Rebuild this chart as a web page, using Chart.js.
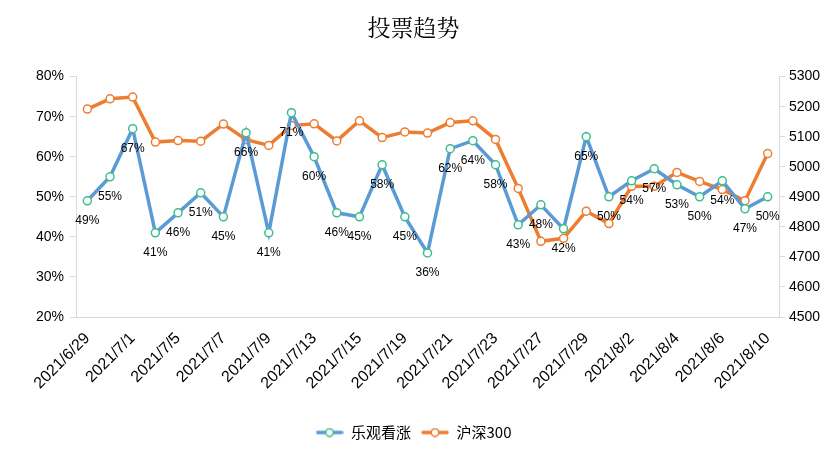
<!DOCTYPE html>
<html>
<head>
<meta charset="utf-8">
<script src="https://cdn.jsdelivr.net/npm/chart.js@4.4.0/dist/chart.umd.min.js"></script>
<style>
  html, body { margin: 0; padding: 0; background: #fff; }
  #wrap { width: 827px; height: 473px; }
</style>
</head>
<body>
<div id="wrap"><canvas id="myChart"></canvas></div>
<script>
// dates (trading days)
const dates = ["2021/6/29", "2021/6/30", "2021/7/1", "2021/7/2", "2021/7/5", "2021/7/6", "2021/7/7", "2021/7/8",
    "2021/7/9", "2021/7/12", "2021/7/13", "2021/7/14", "2021/7/15", "2021/7/16", "2021/7/19", "2021/7/20",
    "2021/7/21", "2021/7/22", "2021/7/23", "2021/7/26", "2021/7/27", "2021/7/28", "2021/7/29", "2021/7/30",
    "2021/8/2", "2021/8/3", "2021/8/4", "2021/8/5", "2021/8/6", "2021/8/9", "2021/8/10"];

// 乐观看涨 (%)
const bullish = [49, 55, 67, 41, 46, 51, 45, 66, 41, 71, 60, 46, 45, 58, 45, 36,
    62, 64, 58, 43, 48, 42, 65, 50, 54, 57, 53, 50, 54, 47, 50];

// 沪深300
const hs300 = [5192, 5226, 5232, 5082, 5087, 5085, 5142, 5090, 5071, 5137, 5143, 5086, 5153, 5097, 5116, 5112,
    5147, 5153, 5091, 4928, 4752, 4762, 4852, 4811, 4935, 4935, 4981, 4951, 4924, 4887, 5044];

const blue = "#5B9BD5", green = "#3DBE8C", orange = "#ED7D31";

// legend marker: short line with hollow circle
function legendMark(lineColor, ptColor) {
    const c = document.createElement('canvas');
    c.width = 28; c.height = 10;
    const g = c.getContext('2d');
    g.strokeStyle = lineColor; g.lineWidth = 3.5; g.lineCap = 'round';
    g.beginPath(); g.moveTo(2, 5); g.lineTo(26, 5); g.stroke();
    g.fillStyle = '#fff'; g.strokeStyle = ptColor; g.lineWidth = 1.5;
    g.beginPath(); g.arc(14, 5, 3.8, 0, Math.PI * 2); g.fill(); g.stroke();
    return c;
}

// percent labels under the blue points
const pctLabels = {
    id: 'pctLabels',
    afterDatasetsDraw(chart) {
        const ctx = chart.ctx;
        const meta = chart.getDatasetMeta(0);
        ctx.save();
        ctx.font = '12px "Liberation Sans", Arial, sans-serif';
        ctx.fillStyle = '#000';
        ctx.textAlign = 'center';
        ctx.textBaseline = 'middle';
        meta.data.forEach((pt, i) => {
            ctx.fillText(bullish[i] + '%', pt.x, pt.y + 20);
        });
        ctx.restore();
    }
};

new Chart(document.getElementById("myChart"), {
    type: 'line',
    data: {
        labels: dates,
        datasets: [{
            label: "乐观看涨",
            data: bullish,
            yAxisID: 'y',
            borderColor: blue,
            borderWidth: 3.5,
            pointRadius: 4,
            pointBorderWidth: 1.5,
            pointBackgroundColor: '#fff',
            pointBorderColor: green,
            tension: 0,
            order: 1
        }, {
            label: "沪深300",
            data: hs300,
            yAxisID: 'y1',
            borderColor: orange,
            borderWidth: 3.5,
            pointRadius: 4,
            pointBorderWidth: 1.5,
            pointBackgroundColor: '#fff',
            pointBorderColor: orange,
            tension: 0,
            order: 2
        }]
    },
    options: {
        responsive: true,
        maintainAspectRatio: false,
        animation: false,
        layout: {
            padding: { left: 0, right: 0, top: 0, bottom: 23 }
        },
        scales: {
            x: {
                offset: true,
                grid: { display: false },
                border: { display: true, color: '#d9d9d9' },
                ticks: {
                    autoSkip: false,
                    maxRotation: 45,
                    minRotation: 45,
                    padding: 4,
                    color: '#000',
                    font: { size: 16, family: '"Liberation Sans", Arial, sans-serif' },
                    callback: (v, i) => i % 2 === 0 ? dates[i] : ''
                },
                afterFit: (s) => { s.height = 98; }
            },
            y: {
                position: 'left',
                min: 20,
                max: 80,
                ticks: {
                    stepSize: 10,
                    padding: 6,
                    color: '#000',
                    font: { size: 14, family: '"Liberation Sans", Arial, sans-serif' },
                    callback: (v) => v + '%'
                },
                grid: { drawOnChartArea: false, drawTicks: true, tickLength: 6, color: '#d9d9d9' },
                border: { display: true, color: '#d9d9d9' },
                afterFit: (s) => { s.width = 76; }
            },
            y1: {
                position: 'right',
                min: 4500,
                max: 5300,
                ticks: {
                    stepSize: 100,
                    padding: 4,
                    color: '#000',
                    font: { size: 14, family: '"Liberation Sans", Arial, sans-serif' },
                    callback: (v) => String(v)
                },
                grid: { drawOnChartArea: false, drawTicks: true, tickLength: 6, color: '#d9d9d9' },
                border: { display: true, color: '#d9d9d9' },
                afterFit: (s) => { s.width = 48; }
            }
        },
        plugins: {
            title: {
                display: true,
                text: '投票趋势',
                color: '#000',
                font: { size: 23, weight: 'normal', family: '"Noto Serif CJK SC", "Noto Sans CJK SC", serif' },
                padding: { top: 13, bottom: 36 }
            },
            legend: {
                display: true,
                position: 'bottom',
                labels: {
                    usePointStyle: true,
                    pointStyleWidth: 28,
                    padding: 10,
                    color: '#000',
                    font: { size: 15, family: '"Noto Sans CJK SC", sans-serif' },
                    generateLabels: (chart) => chart.data.datasets.map((ds, i) => ({
                        text: ds.label,
                        pointStyle: i === 0 ? legendMark(blue, green) : legendMark(orange, orange),
                        fontColor: '#000',
                        lineWidth: 0,
                        strokeStyle: 'transparent',
                        fillStyle: 'transparent',
                        datasetIndex: i
                    }))
                }
            },
            tooltip: { enabled: false }
        }
    },
    plugins: [pctLabels]
});
</script>
</body>
</html>
